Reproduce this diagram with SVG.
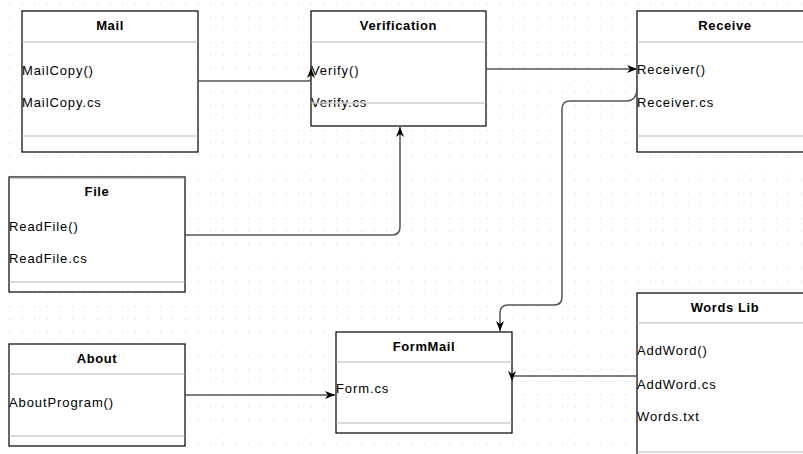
<svg xmlns="http://www.w3.org/2000/svg" width="803" height="454" viewBox="0 0 803 454">
  <defs>
    <pattern id="grid" x="9" y="4.2" width="12.57" height="12.57" patternUnits="userSpaceOnUse">
      <rect x="0" y="0" width="1" height="1" fill="#cfcfcf"/>
    </pattern>
    <marker id="arrow" viewBox="0 0 10 8" markerWidth="10" markerHeight="8" refX="10" refY="4" orient="auto" markerUnits="userSpaceOnUse">
      <path d="M0,0 L10,4 L0,8 L3,4 Z" fill="#000"/>
    </marker>
  </defs>
  <style>
    .box { fill: #fff; stroke: #000; stroke-width: 1.2; }
    .div { stroke: #cfcfcf; stroke-width: 1.5; fill: none; }
    .title { font-family: "Liberation Sans", Arial, sans-serif; font-size: 13px; font-weight: bold; letter-spacing: 0.6px; fill: #000; text-anchor: middle; }
    .item { font-family: "Liberation Sans", Arial, sans-serif; font-size: 13px; letter-spacing: 0.9px; fill: #000; }
    .edge { fill: none; stroke: #555; stroke-width: 1.5; marker-end: url(#arrow); }
  </style>

  <rect x="0" y="0" width="803" height="454" fill="#fff"/>
  <rect x="0" y="0" width="803" height="454" fill="url(#grid)"/>

  <!-- class boxes -->
  <g id="mail">
    <rect class="box" x="22" y="11" width="176" height="141"/>
    <line class="div" x1="22.6" y1="42" x2="197.4" y2="42"/>
    <line class="div" x1="22.6" y1="136" x2="197.4" y2="136"/>
    <text class="title" x="110" y="30">Mail</text>
    <text class="item" x="22" y="75">MailCopy()</text>
    <text class="item" x="22" y="107">MailCopy.cs</text>
  </g>

  <g id="verification">
    <rect class="box" x="311" y="11" width="175" height="115"/>
    <line class="div" x1="311.6" y1="42" x2="485.4" y2="42"/>
    <text class="title" x="398.5" y="30">Verification</text>
    <text class="item" x="311" y="75">Verify()</text>
    <text class="item" x="311" y="107">Verify.cs</text>
    <line class="div" x1="311.6" y1="103" x2="485.4" y2="103"/>
  </g>

  <g id="receive">
    <rect class="box" x="637" y="11" width="176" height="141"/>
    <line class="div" x1="637.6" y1="42" x2="812" y2="42"/>
    <line class="div" x1="637.6" y1="136" x2="812" y2="136"/>
    <text class="title" x="725" y="30">Receive</text>
    <text class="item" x="637" y="74">Receiver()</text>
    <text class="item" x="637" y="107">Receiver.cs</text>
  </g>

  <g id="file">
    <rect class="box" x="9" y="177" width="176" height="115"/>
    <line class="div" x1="9.6" y1="178.5" x2="184.4" y2="178.5"/>
    <line class="div" x1="9.6" y1="282" x2="184.4" y2="282"/>
    <text class="title" x="97" y="196">File</text>
    <text class="item" x="9" y="231">ReadFile()</text>
    <text class="item" x="9" y="263">ReadFile.cs</text>
  </g>

  <g id="about">
    <rect class="box" x="9" y="344" width="176" height="102"/>
    <line class="div" x1="9.6" y1="374" x2="184.4" y2="374"/>
    <line class="div" x1="9.6" y1="436" x2="184.4" y2="436"/>
    <text class="title" x="97" y="363">About</text>
    <text class="item" x="9" y="407">AboutProgram()</text>
  </g>

  <g id="formmail">
    <rect class="box" x="336" y="332" width="176" height="101"/>
    <line class="div" x1="336.6" y1="362" x2="511.4" y2="362"/>
    <line class="div" x1="336.6" y1="423" x2="511.4" y2="423"/>
    <text class="title" x="424" y="351">FormMail</text>
    <text class="item" x="336" y="393">Form.cs</text>
  </g>

  <g id="wordslib">
    <rect class="box" x="637" y="293" width="176" height="170"/>
    <line class="div" x1="637.6" y1="323" x2="812" y2="323"/>
    <line class="div" x1="637.6" y1="452" x2="812" y2="452"/>
    <text class="title" x="725" y="312">Words Lib</text>
    <text class="item" x="637" y="355">AddWord()</text>
    <text class="item" x="637" y="389">AddWord.cs</text>
    <text class="item" x="637" y="421">Words.txt</text>
  </g>

  <!-- connectors -->
  <g id="connectors">
    <path class="edge" d="M198,81 H308 Q311,81 311,78 L311,68"/>
    <path class="edge" d="M486,69 H637"/>
    <path class="edge" d="M185,235 H392 Q400,235 400,227 V127"/>
    <path class="edge" d="M637,88 Q637,101 626,101 H570 Q562,101 562,109 V297 Q562,305 554,305 H508 Q500,305 500,313 V331"/>
    <path class="edge" d="M185,395 H335"/>
    <path class="edge" d="M637,376 H514 Q512,376 512,378 L512,381"/>
  </g>
</svg>
